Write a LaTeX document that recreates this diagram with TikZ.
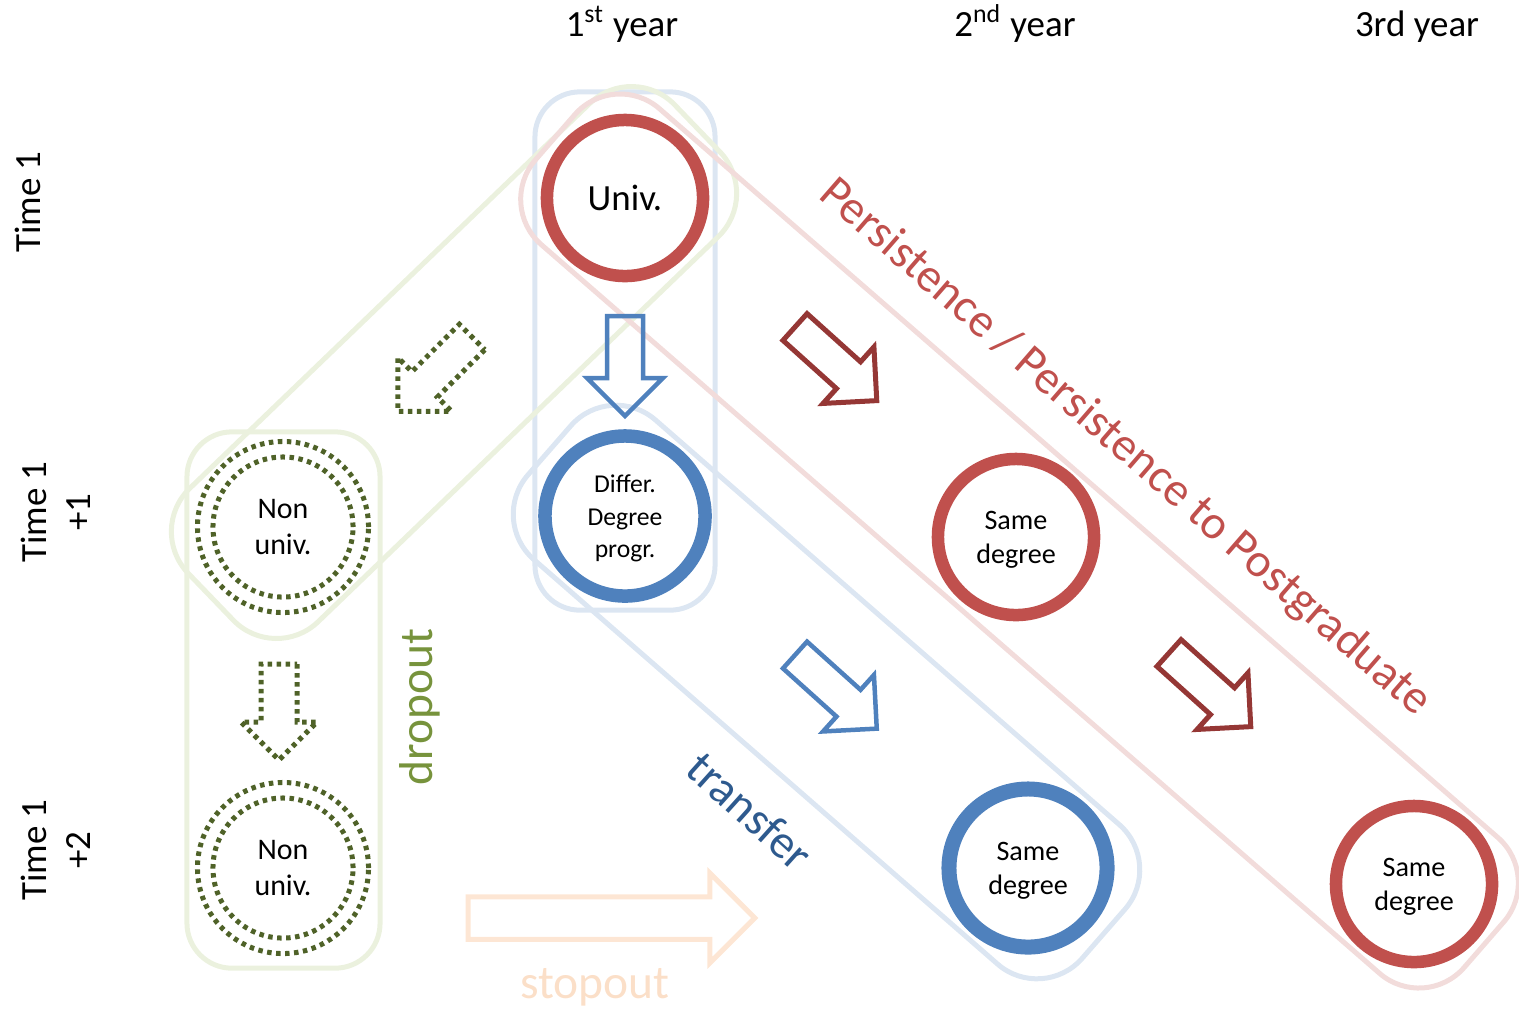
\documentclass[tikz,border=0pt]{standalone}
\usepackage{fontspec}
\setmainfont{Carlito}
\usetikzlibrary{calc}

\definecolor{univred}{HTML}{C0504D}
\definecolor{arrowred}{HTML}{953735}
\definecolor{progblue}{HTML}{4F81BD}
\definecolor{dropgreen}{HTML}{4F6228}
\definecolor{droptext}{HTML}{77933C}
\definecolor{transtext}{HTML}{2E5A8E}
\definecolor{boxgreen}{HTML}{EBF1DE}
\definecolor{boxblue}{HTML}{DCE6F2}
\definecolor{boxred}{HTML}{F2DCDB}
\definecolor{stoparrowcol}{HTML}{FDE6D4}
\definecolor{stoptextcol}{HTML}{FBDFC8}

\tikzstyle{lane} = [%
					rectangle, 
					rounded corners = 0.45cm,
					line width = 0.05cm,
					inner sep = 0pt]
\tikzstyle{droplane} = [lane, draw = boxgreen]
\tikzstyle{proglane} = [lane, draw = boxblue]
\tikzstyle{perslane} = [lane, draw = boxred]
\tikzstyle{stage} = [%
					circle, 
					fill = white,
					inner sep = 0pt,
					align = center,
					line width = 0.125cm,
					minimum size = 1.56cm]
\tikzstyle{univstage} = [stage, draw = univred]
\tikzstyle{progstage} = [stage, draw = progblue]
\tikzstyle{nonstage} = [%
					circle, 
					fill = white,
					draw = dropgreen,
					inner sep = 0pt,
					align = center,
					line width = 0.05cm,
					dash pattern = on 0.045cm off 0.045cm,
					minimum size = 1.71cm]
\tikzstyle{nonring} = [%
					draw = dropgreen,
					line width = 0.05cm,
					dash pattern = on 0.045cm off 0.045cm]
\tikzstyle{persarrow} = [arrowred, line width = 0.05cm]
\tikzstyle{progarrow} = [progblue, line width = 0.045cm]
\tikzstyle{droparrow} = [dropgreen, line width = 0.05cm, dash pattern = on 0.045cm off 0.045cm]
\tikzstyle{stoparrow} = [stoparrowcol, line width = 0.05cm]
\tikzstyle{heading} = [font = \fontsize{10.5}{12.6}\selectfont]
\tikzstyle{flow} = [font = \fontsize{13.5}{16}\selectfont]

% block arrow: [style]{tail}{angle}{length}
\newcommand{\blockarrow}[4][]{%
	\begin{scope}[shift={#2}, rotate=#3, #1]
		\draw (0,-18) -- ({#4-38},-18) -- ({#4-38},-38) -- (#4,0) -- ({#4-38},38) -- ({#4-38},18) -- (0,18) -- cycle;
	\end{scope}}

\begin{document}
\begin{tikzpicture}[x=0.01cm, y=-0.01cm]
		
		\useasboundingbox (0,0) rectangle (1519,1008);
		\clip (0,0) rectangle (1519,1008);
		
		% Lanes
		\node[droplane, minimum width=1.93cm, minimum height=5.36cm] (dropcol) at (283.5,700) {};
		\node[proglane, minimum width=1.8cm, minimum height=5.18cm] (firstcol) at (625,351) {};
		\node[droplane, rounded corners=0.6cm, rotate=43.9, minimum width=6.75cm, minimum height=1.85cm] (droppath) at (454,362.5) {};
		\node[proglane, rounded corners=0.6cm, rotate=-41.1, minimum width=7.35cm, minimum height=1.85cm] (transpath) at (826.5,692) {};
		\node[perslane, rounded corners=0.6cm, rotate=-41, minimum width=12.3cm, minimum height=1.8cm] (perspath) at (1019.5,541) {};
		
		% Stages
		\node[univstage, font=\fontsize{10.5}{12.6}\selectfont] (univ) at (625,198) {Univ.};
		\node[progstage, line width=0.135cm, minimum size=1.6cm, font=\fontsize{7.3}{9.2}\selectfont] (differ) at (625,516) {\strut Differ.\\Degree\\progr.};
		\node[univstage, font=\fontsize{8}{9.7}\selectfont] (same2) at (1016,537) {\strut Same\\degree};
		\node[progstage, line width=0.15cm, minimum size=1.58cm, font=\fontsize{8}{9.7}\selectfont] (same2b) at (1028,868) {\strut Same\\degree};
		\node[univstage, font=\fontsize{8}{9.7}\selectfont] (same3) at (1414,884) {\strut Same\\degree};
		\node[nonstage, font=\fontsize{8.5}{10.5}\selectfont] (nonuniv1) at (283,527) {Non\\univ.};
		\node[nonstage, font=\fontsize{8.5}{10.5}\selectfont] (nonuniv2) at (283,868) {Non\\univ.};
		\draw[nonring] (nonuniv1.center) circle[radius=0.7cm];
		\draw[nonring] (nonuniv2.center) circle[radius=0.7cm];
		
		% Arrows
		\blockarrow[progarrow]{(625,316)}{-90}{100}
		\blockarrow[droparrow]{(472,337)}{-135}{105}
		\blockarrow[droparrow]{(279,664)}{-90}{96}
		\blockarrow[persarrow]{(795,327)}{-42}{110}
		\blockarrow[persarrow]{(1169,653)}{-42}{110}
		\blockarrow[progarrow]{(795,655)}{-42}{110}
		\blockarrow[stoparrow, scale=1.18]{(468,918)}{0}{243}
		
		% Headings
		\node[heading, anchor=base] (year1) at (622,36) {1\textsuperscript{st} year};
		\node[heading, anchor=base] (year2) at (1015,36) {2\textsuperscript{nd} year};
		\node[heading, anchor=base] (year3) at (1417,36) {3rd year};
		\node[heading, rotate=90] (time0) at (28,202) {Time 1};
		\node[heading, rotate=90, align=center] (time1) at (56,512) {Time 1\\+1};
		\node[heading, rotate=90, align=center] (time2) at (56,850) {Time 1\\+2};
		
		% Flow labels
		\node[flow, rotate=-41, text=univred] (persist) at (1125,448) {Persistence / Persistence to Postgraduate};
		\node[flow, rotate=90, text=droptext] (dropout) at (420,707) {dropout};
		\node[flow, rotate=-42, text=transtext] (transfer) at (750,811) {transfer};
		\node[flow, text=stoptextcol] (stopout) at (595,987) {stopout};
		
	\end{tikzpicture}
\end{document}
